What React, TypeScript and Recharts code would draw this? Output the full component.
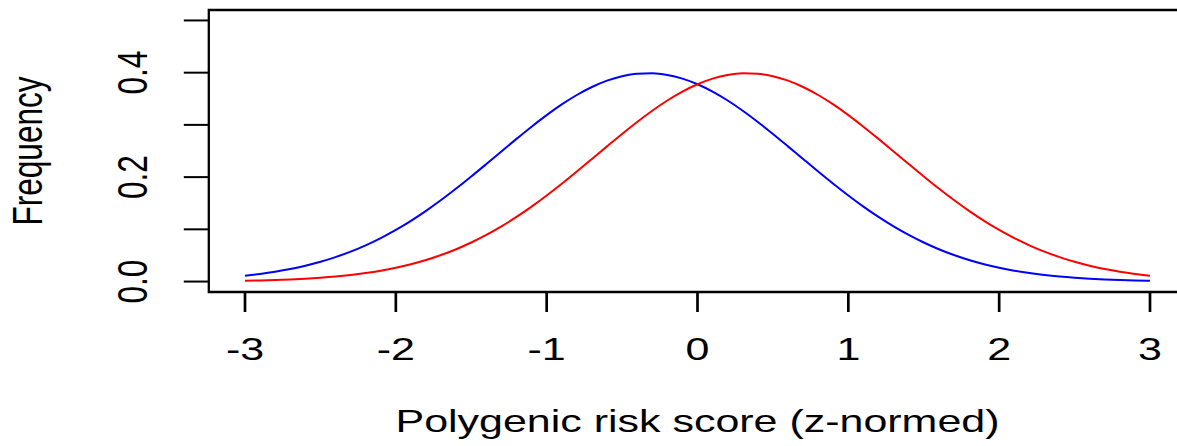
import React from "react";
import { LineChart, Line, XAxis, YAxis, ReferenceArea } from "recharts";

// Polygenic risk score grid (z-normed)
const xValues = [
  -3.0, -2.9, -2.8, -2.7, -2.6, -2.5, -2.4, -2.3, -2.2, -2.1,
  -2.0, -1.9, -1.8, -1.7, -1.6, -1.5, -1.4, -1.3, -1.2, -1.1,
  -1.0, -0.9, -0.8, -0.7, -0.6, -0.5, -0.4, -0.3, -0.2, -0.1,
  0.0, 0.1, 0.2, 0.3, 0.4, 0.5, 0.6, 0.7, 0.8, 0.9,
  1.0, 1.1, 1.2, 1.3, 1.4, 1.5, 1.6, 1.7, 1.8, 1.9,
  2.0, 2.1, 2.2, 2.3, 2.4, 2.5, 2.6, 2.7, 2.8, 2.9, 3.0,
];

// Frequency, blue curve
const blueValues = [
  0.01129, 0.01468, 0.01888, 0.02405, 0.03033, 0.03787, 0.04682, 0.0573, 0.06944, 0.0833,
  0.09893, 0.11632, 0.13542, 0.15608, 0.1781, 0.20121, 0.22506, 0.24923, 0.27324, 0.2966,
  0.31874, 0.33913, 0.35723, 0.37255, 0.38466, 0.39322, 0.39797, 0.39876, 0.39559, 0.38853,
  0.3778, 0.36371, 0.34667, 0.32713, 0.30563, 0.2827, 0.25888, 0.23471, 0.21068, 0.18723,
  0.16473, 0.1435, 0.12376, 0.10567, 0.08933, 0.07477, 0.06195, 0.05082, 0.04128, 0.03318,
  0.02642, 0.02083, 0.01625, 0.01256, 0.00961, 0.00728, 0.00545, 0.00405, 0.00297, 0.00217, 0.00156,
];

// Frequency, red curve
const redValues = [
  0.00156, 0.00217, 0.00297, 0.00405, 0.00545, 0.00728, 0.00961, 0.01256, 0.01625, 0.02083,
  0.02642, 0.03318, 0.04128, 0.05082, 0.06195, 0.07477, 0.08933, 0.10567, 0.12376, 0.1435,
  0.16473, 0.18723, 0.21068, 0.23471, 0.25888, 0.2827, 0.30563, 0.32713, 0.34667, 0.36371,
  0.3778, 0.38853, 0.39559, 0.39876, 0.39797, 0.39322, 0.38466, 0.37255, 0.35723, 0.33913,
  0.31874, 0.2966, 0.27324, 0.24923, 0.22506, 0.20121, 0.1781, 0.15608, 0.13542, 0.11632,
  0.09893, 0.0833, 0.06944, 0.05730, 0.04682, 0.03787, 0.03033, 0.02405, 0.01888, 0.01468, 0.01129,
];

const xTicks = [-3, -2, -1, 0, 1, 2, 3];
const yTicks = [0, 0.1, 0.2, 0.3, 0.4, 0.5];
const yLabelTicks = ["0.0", "0.2", "0.4"];
const xLabel = "Polygenic risk score (z-normed)";
const yLabel = "Frequency";

const data = xValues.map((x, i) => ({ x, blue: blueValues[i], red: redValues[i] }));

const FONT = "'Liberation Sans', Arial, Helvetica, sans-serif";
const SX = 1.36;
const FS = 31.6;

const XTick = (props: any) => {
  const { x, y, payload } = props;
  return (
    <text
      transform={`translate(${x},${y + 46}) scale(${SX},1)`}
      textAnchor="middle"
      fontFamily={FONT}
      fontSize={FS}
      fill="#000"
    >
      {String(payload.value)}
    </text>
  );
};

const YTick = (props: any) => {
  const { x, y, payload } = props;
  const label = Number(payload.value).toFixed(1);
  if (!yLabelTicks.includes(label)) return null;
  return (
    <text
      transform={`translate(${x - 35},${y}) scale(${SX},1) rotate(-90)`}
      textAnchor="middle"
      fontFamily={FONT}
      fontSize={FS}
      fill="#000"
    >
      {label}
    </text>
  );
};

const XTitle = (props: any) => {
  const vb = props.viewBox || {};
  const cx = vb.x + vb.width / 2;
  return (
    <text
      transform={`translate(${cx},432) scale(${SX},1)`}
      textAnchor="middle"
      fontFamily={FONT}
      fontSize={FS}
      fill="#000"
    >
      {xLabel}
    </text>
  );
};

const YTitle = (props: any) => {
  const vb = props.viewBox || {};
  const cy = vb.y + vb.height / 2;
  return (
    <text
      transform={`translate(42,${cy}) scale(${SX},1) rotate(-90)`}
      textAnchor="middle"
      fontFamily={FONT}
      fontSize={FS}
      fill="#000"
    >
      {yLabel}
    </text>
  );
};

export default function App() {
  return (
    <div
      style={{
        position: "absolute",
        left: 0,
        top: 0,
        width: 1177,
        height: 446,
        overflow: "hidden",
        background: "#fff",
      }}
    >
      <LineChart
        width={1200}
        height={446}
        data={data}
        margin={{ top: 10, right: 13.8, bottom: 0, left: 0 }}
      >
        <XAxis
          dataKey="x"
          type="number"
          domain={[-3.24, 3.24]}
          allowDataOverflow
          ticks={xTicks}
          interval={0}
          height={154}
          tickSize={20}
          axisLine={false}
          tickLine={{ stroke: "#000", strokeWidth: 2.7 }}
          tick={<XTick />}
          label={<XTitle />}
        />
        <YAxis
          type="number"
          domain={[-0.02, 0.52]}
          allowDataOverflow
          ticks={yTicks}
          interval={0}
          width={208.8}
          tickSize={25}
          axisLine={false}
          tickLine={{ stroke: "#000", strokeWidth: 2 }}
          tick={<YTick />}
          label={<YTitle />}
        />
        <ReferenceArea
          x1={-3.24}
          x2={3.24}
          y1={-0.02}
          y2={0.52}
          fill="none"
          fillOpacity={0}
          stroke="#000"
          strokeWidth={2.3}
          ifOverflow="visible"
        />
        <Line
          type="monotone"
          dataKey="blue"
          stroke="#0000FF"
          strokeWidth={2}
          dot={false}
          isAnimationActive={false}
        />
        <Line
          type="monotone"
          dataKey="red"
          stroke="#FF0000"
          strokeWidth={2}
          dot={false}
          isAnimationActive={false}
        />
      </LineChart>
    </div>
  );
}
